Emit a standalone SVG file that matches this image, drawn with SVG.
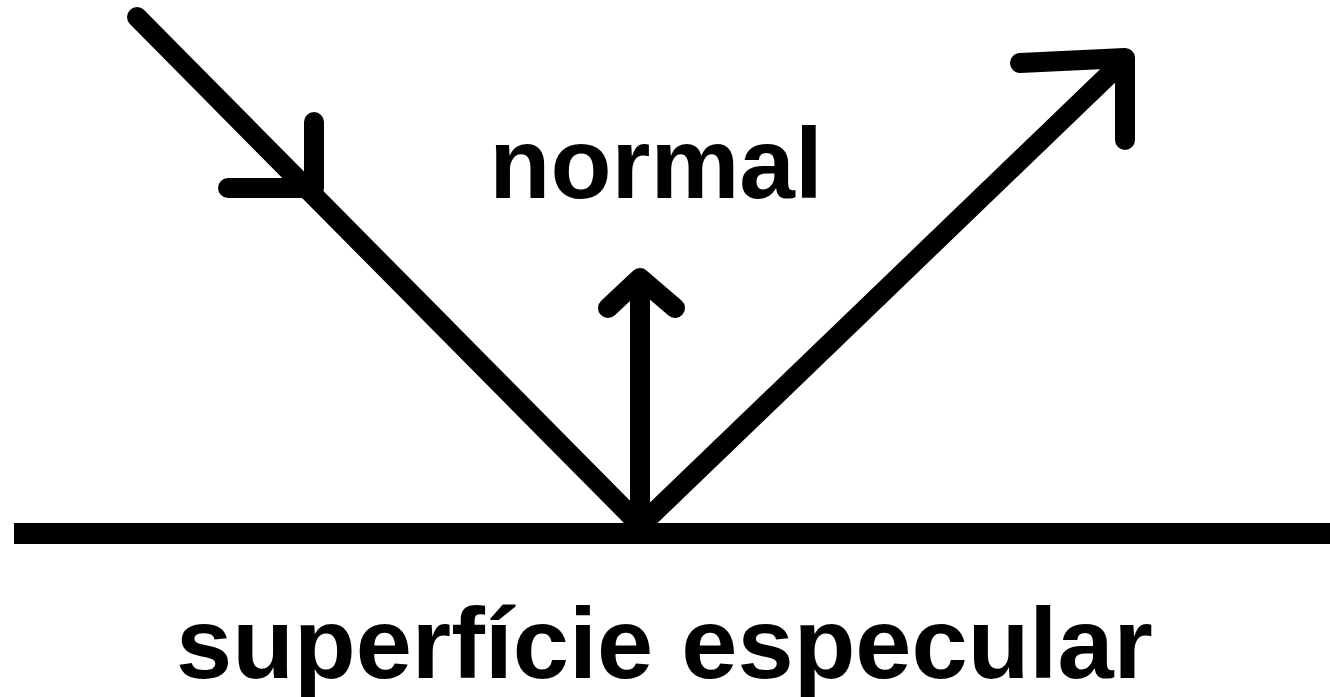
<svg xmlns="http://www.w3.org/2000/svg" width="1330" height="697" viewBox="0 0 1330 697">
<style>
.ln{stroke:#000;stroke-width:20;stroke-linecap:round;stroke-linejoin:round;fill:none}
.t{font-family:"Liberation Sans",Arial,sans-serif;font-weight:bold;fill:#000}
</style>
<rect width="1330" height="697" fill="#fff"/>
<g id="surface">
<line x1="14" y1="533.5" x2="1330" y2="533.5" stroke="#000" stroke-width="21"/>
<text class="t" x="664.5" y="678" font-size="101" text-anchor="middle">superfície especular</text>
</g>
<g id="normal">
<text class="t" x="656" y="198" font-size="100" text-anchor="middle">normal</text>
</g>
<g id="connectors">
<g id="incident">
<line class="ln" x1="137" y1="17" x2="640" y2="525"/>
<polyline class="ln" points="228,188 314,188 314,122"/>
</g>
<g id="reflected">
<line class="ln" x1="641" y1="525" x2="1120" y2="64"/>
<polyline class="ln" points="1020,63 1125,58 1125,140"/>
</g>
<g id="normal-arrow">
<line class="ln" x1="640" y1="525" x2="640" y2="280"/>
<polyline class="ln" points="608,308 640,278 675,308"/>
</g>
</g>
</svg>
